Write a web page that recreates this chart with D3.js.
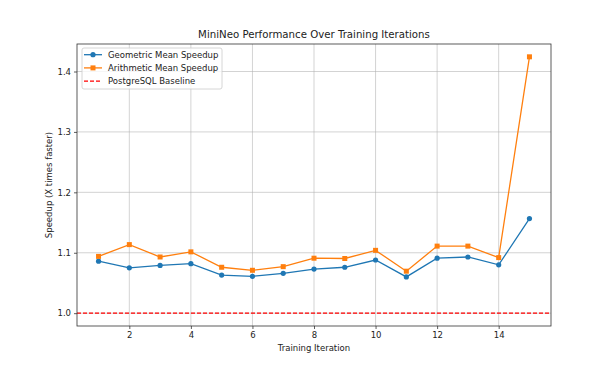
<!DOCTYPE html>
<html>
<head>
<meta charset="utf-8">
<script src="https://cdn.jsdelivr.net/npm/d3@7"></script>
<style>
  body { margin: 0; background: #fff; }
  text { font-family: "DejaVu Sans", sans-serif; fill: #222; }
</style>
</head>
<body>
<div id="chart"></div>
<script>
var iterations   = [1, 2, 3, 4, 5, 6, 7, 8, 9, 10, 11, 12, 13, 14, 15];
var geoSpeedup   = [1.086, 1.075, 1.079, 1.082, 1.063, 1.061, 1.066, 1.073, 1.076, 1.088, 1.060, 1.091, 1.093, 1.080, 1.1565];
var arithSpeedup = [1.094, 1.1135, 1.093, 1.1015, 1.076, 1.071, 1.077, 1.091, 1.0905, 1.104, 1.0695, 1.111, 1.111, 1.092, 1.4243];
var baseline     = 1.0;
var xTicks       = [2, 4, 6, 8, 10, 12, 14];
var yTicks       = [1.0, 1.1, 1.2, 1.3, 1.4];
var seriesNames  = ['Geometric Mean Speedup', 'Arithmetic Mean Speedup', 'PostgreSQL Baseline'];

var W = 612, H = 367;
var m = { l: 77, r: 61, t: 44, b: 41 };

var svg = d3.select('#chart').append('svg')
    .attr('width', W)
    .attr('height', H);

// matplotlib-like 5% margins
var xMin = d3.min(iterations), xMax = d3.max(iterations);
var xPad = (xMax - xMin) * 0.05;
var yLo = Math.min(baseline, d3.min(geoSpeedup)), yHi = d3.max(arithSpeedup);
var yPad = (yHi - yLo) * 0.05;

var x = d3.scaleLinear()
    .domain([xMin - xPad, xMax + xPad])
    .range([m.l, W - m.r]);
var y = d3.scaleLinear()
    .domain([yLo - yPad, yHi + yPad])
    .range([H - m.b, m.t]);

var g = svg.append('g');

// grid
g.append('g').selectAll('line.vx')
    .data(xTicks).enter().append('line')
    .attr('x1', d => x(d)).attr('x2', d => x(d))
    .attr('y1', m.t).attr('y2', H - m.b)
    .attr('stroke', '#b0b0b0').attr('stroke-opacity', 0.7).attr('stroke-width', 0.8);
g.append('g').selectAll('line.hy')
    .data(yTicks).enter().append('line')
    .attr('x1', m.l).attr('x2', W - m.r)
    .attr('y1', d => y(d)).attr('y2', d => y(d))
    .attr('stroke', '#b0b0b0').attr('stroke-opacity', 0.7).attr('stroke-width', 0.8);

// axes
var xAxis = g.append('g')
    .attr('transform', 'translate(0,' + (H - m.b) + ')')
    .call(d3.axisBottom(x).tickValues(xTicks).tickSize(3).tickPadding(3).tickFormat(d3.format('d')));
var yAxis = g.append('g')
    .attr('transform', 'translate(' + m.l + ',0)')
    .call(d3.axisLeft(y).tickValues(yTicks).tickSize(3).tickPadding(3).tickFormat(d3.format('.1f')));
[xAxis, yAxis].forEach(a => {
    a.select('.domain').remove();
    a.selectAll('text').style('font-size', '8.5px').attr('fill', '#222');
    a.selectAll('line').attr('stroke', '#333').attr('stroke-width', 0.8);
});

// baseline
g.append('line')
    .attr('x1', m.l).attr('x2', W - m.r)
    .attr('y1', y(baseline)).attr('y2', y(baseline))
    .attr('stroke', '#f00').attr('stroke-width', 1.3)
    .attr('stroke-dasharray', '4,2');

var line = d3.line()
    .x((d, i) => x(iterations[i]))
    .y(d => y(d));

// geometric
g.append('path').datum(geoSpeedup)
    .attr('d', line).attr('fill', 'none')
    .attr('stroke', '#1f77b4').attr('stroke-width', 1.3);
g.append('g').selectAll('circle')
    .data(geoSpeedup).enter().append('circle')
    .attr('cx', (d, i) => x(iterations[i]))
    .attr('cy', d => y(d))
    .attr('r', 2.6)
    .attr('fill', '#1f77b4');

// arithmetic
g.append('path').datum(arithSpeedup)
    .attr('d', line).attr('fill', 'none')
    .attr('stroke', '#ff7f0e').attr('stroke-width', 1.3);
g.append('g').selectAll('rect')
    .data(arithSpeedup).enter().append('rect')
    .attr('x', (d, i) => x(iterations[i]) - 2.5)
    .attr('y', d => y(d) - 2.5)
    .attr('width', 5).attr('height', 5)
    .attr('fill', '#ff7f0e');

// frame
g.append('rect')
    .attr('x', m.l).attr('y', m.t)
    .attr('width', W - m.l - m.r).attr('height', H - m.t - m.b)
    .attr('fill', 'none').attr('stroke', '#333').attr('stroke-width', 0.8);

// title & labels
svg.append('text')
    .attr('x', (m.l + W - m.r) / 2).attr('y', 38)
    .attr('text-anchor', 'middle')
    .style('font-size', '10.2px')
    .text('MiniNeo Performance Over Training Iterations');
svg.append('text')
    .attr('x', (m.l + W - m.r) / 2).attr('y', 351)
    .attr('text-anchor', 'middle')
    .style('font-size', '8.5px')
    .text('Training Iteration');
svg.append('text')
    .attr('transform', 'translate(52,' + ((m.t + H - m.b) / 2) + ') rotate(-90)')
    .attr('text-anchor', 'middle')
    .style('font-size', '8.5px')
    .text('Speedup (X times faster)');

// legend
var lg = svg.append('g').attr('transform', 'translate(82,48)');
lg.append('rect')
    .attr('width', 140).attr('height', 41).attr('rx', 2)
    .attr('fill', '#fff').attr('fill-opacity', 0.8)
    .attr('stroke', '#ccc').attr('stroke-width', 0.8);
var colors = ['#1f77b4', '#ff7f0e', '#f00'];
seriesNames.forEach((name, i) => {
    var yy = 6.7 + i * 13.2;
    var row = lg.append('g').attr('transform', 'translate(0,' + yy + ')');
    row.append('line')
        .attr('x1', 2).attr('x2', 20)
        .attr('stroke', colors[i]).attr('stroke-width', 1.3)
        .attr('stroke-dasharray', i === 2 ? '4,2' : null);
    if (i === 0) {
        row.append('circle').attr('cx', 11).attr('r', 2.6).attr('fill', colors[i]);
    } else if (i === 1) {
        row.append('rect').attr('x', 8.5).attr('y', -2.5).attr('width', 5).attr('height', 5).attr('fill', colors[i]);
    }
    row.append('text')
        .attr('x', 26).attr('y', 3)
        .style('font-size', '8.5px')
        .text(name);
});
</script>
</body>
</html>
